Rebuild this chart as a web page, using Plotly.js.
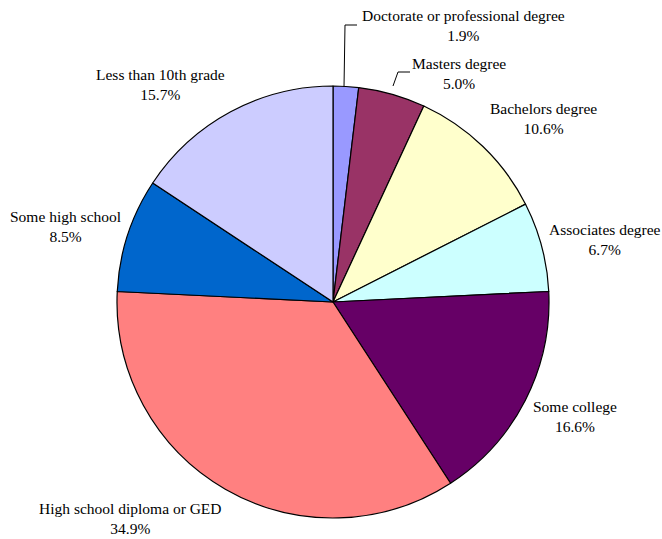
<!DOCTYPE html>
<html>
<head>
<meta charset="utf-8">
<script src="https://cdn.plot.ly/plotly-3.0.1.min.js"></script>
<style>html,body{margin:0;padding:0;background:#fff;}#chart{width:662px;height:539px;}</style>
</head>
<body>
<div id="chart"></div>
<script>
const categories = ["Doctorate or professional degree","Masters degree","Bachelors degree","Associates degree","Some college","High school diploma or GED","Some high school","Less than 10th grade"];
const shares = [1.9, 5.0, 10.6, 6.7, 16.6, 34.9, 8.5, 15.7];
const colors = ["#9999FF","#993366","#FFFFCC","#CCFFFF","#660066","#FF8080","#0066CC","#CCCCFF"];
// label anchor points in pixels (center of the two-line label)
const labelPos = [[463,25],[459,73],[543,119],[605,239],[575,416],[130,518],[65,226],[160,85]];

const W = 662, H = 539;
const annotations = categories.map((c, i) => ({
  text: c + "<br>" + shares[i].toFixed(1) + "%",
  xref: "paper", yref: "paper",
  x: labelPos[i][0] / W, y: 1 - labelPos[i][1] / H,
  xanchor: "center", yanchor: "middle",
  showarrow: false, align: "center",
  font: {family: "Liberation Serif", size: 15.5, color: "#000"}
}));

const line = {type: "line", xref: "paper", yref: "paper", line: {color: "#000", width: 1}};
const px = (x) => x / W, py = (y) => 1 - y / H;
const shapes = [
  Object.assign({}, line, {x0: px(344), y0: py(87), x1: px(345), y1: py(25)}),
  Object.assign({}, line, {x0: px(345), y0: py(25), x1: px(357), y1: py(25)}),
  Object.assign({}, line, {x0: px(393), y0: py(86), x1: px(398), y1: py(72)}),
  Object.assign({}, line, {x0: px(398), y0: py(72), x1: px(410), y1: py(72)})
];

const cx = 333, cy = 302, r = 216;
const data = [{
  type: "pie",
  labels: categories,
  values: shares,
  sort: false,
  direction: "clockwise",
  rotation: 0,
  textinfo: "none",
  hoverinfo: "none",
  marker: {colors: colors, line: {color: "#000", width: 1.2}},
  domain: {x: [(cx - r) / W, (cx + r) / W], y: [(H - cy - r) / H, (H - cy + r) / H]}
}];

const layout = {
  width: W, height: H,
  margin: {l: 0, r: 0, t: 0, b: 0},
  showlegend: false,
  paper_bgcolor: "#fff",
  annotations: annotations,
  shapes: shapes
};
Plotly.newPlot("chart", data, layout, {displayModeBar: false, staticPlot: true});
</script>
</body>
</html>
